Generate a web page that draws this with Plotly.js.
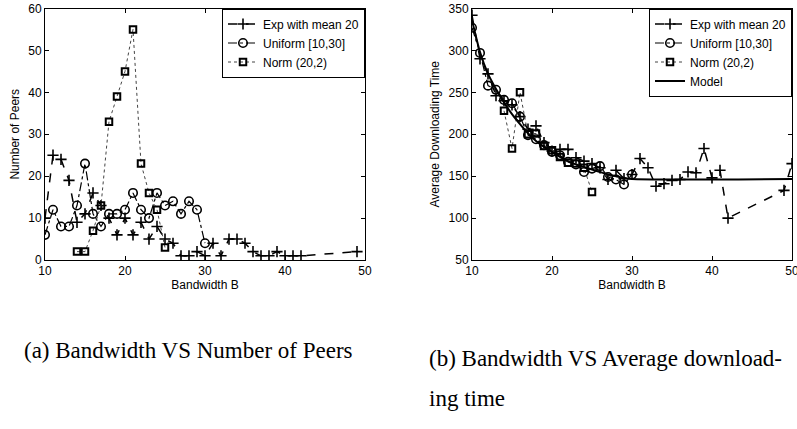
<!DOCTYPE html>
<html>
<head>
<meta charset="utf-8">
<script src="https://cdn.plot.ly/plotly-3.0.1.min.js"></script>
<style>html,body{margin:0;padding:0;background:#fff;overflow:hidden;}#chart{width:797px;height:429px;}</style>
</head>
<body>
<div id="chart"></div>
<script>
// ---- data: left panel (number of peers) ----
var expX = [10,11,12,13,14,15,16,17,18,19,20,21,22,23,24,25,26,27,28,29,30,31,32,33,34,35,36,37,38,39,40,41,42,49];
var expPeers = [10,25,24,19,9,11,16,13,10,6,10,6,9,5,8,5,4,1,1,2,1,4,1,5,5,4,2,1,1,2,1,1,1,2];
var uniX = [10,11,12,13,14,15,16,17,18,19,20,21,22,23,24,25,26,27,28,29,30];
var uniPeers = [6,12,8,8,13,23,11,8,11,11,12,16,12,10,16,13,14,11,14,12,4];
var normX = [14,15,16,17,18,19,20,21,22,23,24,25];
var normPeers = [2,2,7,13,33,39,45,55,23,16,12,3];

// ---- data: right panel (average downloading time) ----
var expTX = [10,11,12,13,14,15,16,17,18,19,20,21,22,23,24,25,26,27,28,29,30,31,32,33,34,35,36,37,38,39,40,41,42,49,50];
var expTime = [342,290,272,246,240,235,221,206,210,190,180,182,182,172,168,165,160,146,157,147,152,171,160,138,141,145,146,155,154,183,148,157,100,133,165];
var uniTime = [327,297,258,253,241,237,221,199,194,187,179,175,167,164,155,159,162,149,146,140,152];
var normTime = [228,183,250,200,201,186,181,173,166,165,160,131];
var modelX = [10,11,12,13,14,15,16,17,18,19,20,21,22,23,24,25,26,27,28,29,30,50];
var modelTime = [336,298,272,254,238,224,212,201,192,185,179,173,168,164,161,158,155,152,150,148,146.5,146.5];

var names = ["Exp with mean 20","Uniform [10,30]","Norm (20,2)","Model"];
var xTicks = [10,20,30,40,50];
var peerTicks = [0,10,20,30,40,50,60];
var timeTicks = [50,100,150,200,250,300,350];

var W = 797, H = 429;
var FONT = "Liberation Sans, Arial, sans-serif";
var SERIF = "Liberation Serif, Times New Roman, serif";

var expStyle = {mode:"lines+markers", line:{color:"#000",width:1.5,dash:"dash"},
  marker:{symbol:"cross-thin-open",size:8,color:"#000",line:{color:"#000",width:1.6}}};
var uniStyle = {mode:"lines+markers", line:{color:"#000",width:1.2,dash:"dashdot"},
  marker:{symbol:"circle-open",size:8.5,color:"#000",line:{color:"#000",width:1.6}}};
var normStyle = {mode:"lines+markers", line:{color:"#444",width:1,dash:"dot"},
  marker:{symbol:"square-open",size:6.5,color:"#000",line:{color:"#000",width:2}}};

function mk(style, x, y, name, xa, ya, leg) {
  var t = JSON.parse(JSON.stringify(style));
  t.type = "scatter"; t.x = x; t.y = y; t.name = name;
  t.xaxis = xa; t.yaxis = ya; t.legend = leg; t.cliponaxis = true;
  return t;
}

var data = [
  mk(expStyle, expX, expPeers, names[0], "x", "y", "legend"),
  mk(uniStyle, uniX, uniPeers, names[1], "x", "y", "legend"),
  mk(normStyle, normX, normPeers, names[2], "x", "y", "legend"),
  mk(expStyle, expTX, expTime, names[0], "x2", "y2", "legend2"),
  mk(uniStyle, uniX, uniTime, names[1], "x2", "y2", "legend2"),
  mk(normStyle, normX, normTime, names[2], "x2", "y2", "legend2"),
  {type:"scatter", mode:"lines", x:modelX, y:modelTime, name:names[3], xaxis:"x2", yaxis:"y2",
   legend:"legend2", line:{color:"#000", width:2, shape:"spline", smoothing:0.6}}
];

function axis(domain, range, tickvals, title, standoff, anchor) {
  return {domain:domain, range:range, tickvals:tickvals, ticktext:tickvals.map(String),
    ticks:"inside", ticklen:4, tickcolor:"#000", showline:true, linecolor:"#000", linewidth:1,
    mirror:"ticks", showgrid:false, zeroline:false, anchor:anchor, ticklabeloverflow:"allow",
    tickfont:{family:FONT, size:12, color:"#000"},
    title:{text:title, font:{family:FONT, size:12, color:"#000"}, standoff:standoff}};
}

var yDom = [(H-260)/H, (H-8.5)/H];
function legendAt(xpx) {
  return {x:xpx/W, xanchor:"right", y:yDom[1], yanchor:"top", bgcolor:"#fff", bordercolor:"#000",
    borderwidth:1, font:{family:FONT, size:12, color:"#000"}, tracegroupgap:0, itemwidth:30};
}
var layout = {
  width:W, height:H, margin:{l:0,r:0,t:0,b:0}, paper_bgcolor:"#fff", plot_bgcolor:"#fff",
  font:{family:FONT, size:12, color:"#000"},
  xaxis: axis([45/W, 365/W], [10,50], xTicks, "Bandwidth B", 1, "y"),
  yaxis: axis(yDom, [0,60], peerTicks, "Number of Peers", 6, "x"),
  xaxis2: axis([472/W, 792/W], [10,50], xTicks, "Bandwidth B", 1, "y2"),
  yaxis2: axis(yDom, [50,350], timeTicks, "Average Downloading Time", 6, "x2"),
  legend: legendAt(365),
  legend2: legendAt(792),
  showlegend:true,
  annotations:[
    {text:"(a) Bandwidth VS Number of Peers", xref:"paper", yref:"paper", x:22/W, y:(H-350)/H,
     xanchor:"left", yanchor:"middle", showarrow:false, font:{family:SERIF, size:23, color:"#000"}},
    {text:"(b) Bandwidth VS Average download-", xref:"paper", yref:"paper", x:427/W, y:(H-358)/H,
     xanchor:"left", yanchor:"middle", showarrow:false, font:{family:SERIF, size:23, color:"#000"}},
    {text:"ing time", xref:"paper", yref:"paper", x:427/W, y:(H-398)/H,
     xanchor:"left", yanchor:"middle", showarrow:false, font:{family:SERIF, size:23, color:"#000"}}
  ]
};

Plotly.newPlot("chart", data, layout, {staticPlot:true, displayModeBar:false});
</script>
</body>
</html>
